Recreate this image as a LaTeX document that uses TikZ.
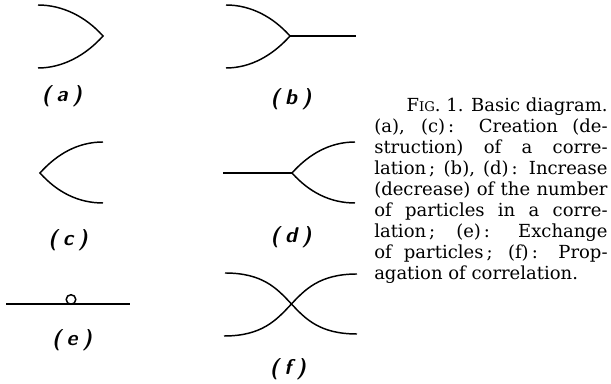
\documentclass[tikz,border=0pt]{standalone}
\usepackage{fontspec}
\newfontfamily\capfont{DejaVu Serif}

\begin{document}
\begin{tikzpicture}[x=0.75pt, y=-0.75pt,
    wire/.style={line width=1.1pt},
    tag/.style={font=\fontsize{16}{16}\selectfont\sffamily\bfseries\slshape}]

    \useasboundingbox (0,0) rectangle (611,384);

    % (a) creation
    \coordinate (a1) at (38,5);
    \coordinate (a2) at (103,36);
    \coordinate (a3) at (38,68);
    \draw[wire] (a1) .. controls +(25,0) and +(-17,-19) .. (a2) .. controls +(-17,19) and +(25,0) .. (a3);
    \node[tag] (la) at (62,96) {(\kern4pt a\kern4pt)};

    % (b) increase
    \coordinate (b1) at (226,5);
    \coordinate (b2) at (290,36);
    \coordinate (b3) at (226,68);
    \coordinate (b4) at (356,36);
    \draw[wire] (b1) .. controls +(25,0) and +(-17,-19) .. (b2) .. controls +(-17,19) and +(25,0) .. (b3);
    \draw[wire] (b2) -- (b4);
    \node[tag] (lb) at (291,99) {(\kern4pt b\kern4pt)};

    % (c) destruction
    \coordinate (c1) at (103,142);
    \coordinate (c2) at (40,173);
    \coordinate (c3) at (103,203);
    \draw[wire] (c1) .. controls +(-25,0) and +(17,-19) .. (c2) .. controls +(17,19) and +(-25,0) .. (c3);
    \node[tag] (lc) at (68,240) {(\kern4pt c\kern4pt)};

    % (d) decrease
    \coordinate (d1) at (355,142);
    \coordinate (d2) at (292,173);
    \coordinate (d3) at (355,203);
    \coordinate (d4) at (223,173);
    \draw[wire] (d1) .. controls +(-25,0) and +(17,-19) .. (d2) .. controls +(17,19) and +(-25,0) .. (d3);
    \draw[wire] (d4) -- (d2);
    \node[tag] (ld) at (291,237) {(\kern4pt d\kern4pt)};

    % (e) exchange
    \coordinate (e1) at (6,304);
    \coordinate (e2) at (130,304);
    \draw[wire] (e1) -- (e2);
    \draw[wire] (71,299.5) circle[radius=3.6pt];
    \node[tag] (le) at (72,340) {(\kern4pt e\kern4pt)};

    % (f) propagation
    \coordinate (f1) at (225,273);
    \coordinate (f2) at (357,334);
    \coordinate (f3) at (224,336);
    \coordinate (f4) at (357,274);
    \draw[wire] (f1) .. controls +(75,0) and +(-75,0) .. (f2);
    \draw[wire] (f3) .. controls +(75,0) and +(-75,0) .. (f4);
    \node[tag] (lf) at (288,369) {(\kern4pt f\kern4pt)};

    % caption
    \node[anchor=north west, inner sep=0pt, text width=175pt, align=justify,
          font=\capfont\fontsize{13.5}{15.75}\selectfont] (cap) at (374,98)
    {\hspace*{\fill}F{\fontsize{10}{10}\selectfont IG}. 1. Basic diagram.\linebreak
     (a), (c)\,: Creation (de-\linebreak
     struction) of a corre-\linebreak
     lation\,; (b), (d)\,: Increase\linebreak
     (decrease) of the number\linebreak
     of particles in a corre-\linebreak
     lation\,; (e)\,: Exchange\linebreak
     of particles\,; (f)\,: Prop-\linebreak
     agation of correlation.};

\end{tikzpicture}
\end{document}
